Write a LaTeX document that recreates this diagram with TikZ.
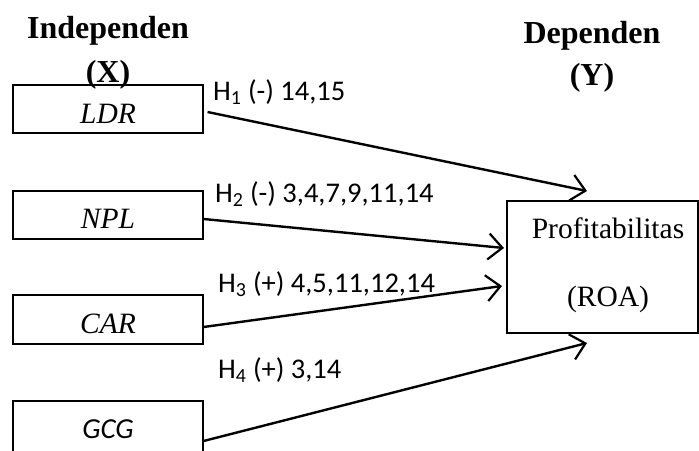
\documentclass[tikz,border=0pt]{standalone}
\usepackage{fontspec}
\setmainfont{Liberation Serif}
\newfontfamily\labfont{Carlito}
\usetikzlibrary{arrows.meta}
\begin{document}
\begin{tikzpicture}[x=1pt,y=-1pt,
  box/.style={draw,line width=1.2pt},
  txt/.style={anchor=base,inner sep=0pt,font=\fontsize{29.5}{31}\selectfont},
  head/.style={anchor=base,inner sep=0pt,font=\fontsize{32}{34}\selectfont\bfseries},
  lab/.style={anchor=base west,inner sep=0pt,font=\fontsize{28.5}{30}\labfont},
  conn/.style={line width=2.4pt,-{Straight Barb[length=14pt,width=26pt,line width=2.2pt]}}]
\useasboundingbox (0,0) rectangle (699,450);
\clip (0,0) rectangle (699,450);
% boxes
\node[box,minimum width=190pt,minimum height=48pt,inner sep=0pt] (ldr) at (108,109) {};
\node[box,minimum width=190pt,minimum height=48pt,inner sep=0pt] (npl) at (108,215) {};
\node[box,minimum width=190pt,minimum height=49pt,inner sep=0pt] (car) at (108,319.5) {};
\node[box,minimum width=190pt,minimum height=80pt,inner sep=0pt] (gcg) at (108,441) {};
\node[box,minimum width=191pt,minimum height=132pt,inner sep=0pt] (roa) at (602.5,267) {};
% texts
\node[txt] (tldr) at (108,123) {\itshape LDR};
\node[txt] (tnpl) at (108,228) {\itshape NPL};
\node[txt] (tcar) at (108,333) {\itshape CAR};
\node[txt,font=\fontsize{29}{31}\labfont\itshape] (tgcg) at (108,438) {GCG};
\node[txt] (tprof) at (608,238) {Profitabilitas};
\node[txt] (troa) at (608,306) {(ROA)};
% headers
\node[head] (hind) at (108,38) {Independen};
\node[head] (hx) at (108,82) {(X)};
\node[head] (hdep) at (592,43) {Dependen};
\node[head] (hy) at (592,85) {(Y)};
% arrow ends
\coordinate (t1) at (587,191);
\coordinate (t2) at (504,248);
\coordinate (t3) at (502,286);
\coordinate (t4) at (587,343);
\draw[conn] ([shift={(4,3)}]ldr.east) -- (t1);
\draw[conn] ([shift={(0,4)}]npl.east) -- (t2);
\draw[conn] ([shift={(0,7.5)}]car.east) -- (t3);
\draw[conn] (gcg.east) -- (t4);
% labels
\node[lab] (l1) at (213,100) {H\textsubscript{1} (-) 14,15};
\node[lab] (l2) at (215,202) {H\textsubscript{2} (-) 3,4,7,9,11,14};
\node[lab] (l3) at (218,292) {H\textsubscript{3} (+) 4,5,11,12,14};
\node[lab] (l4) at (218,378) {H\textsubscript{4} (+) 3,14};
\end{tikzpicture}
\end{document}
